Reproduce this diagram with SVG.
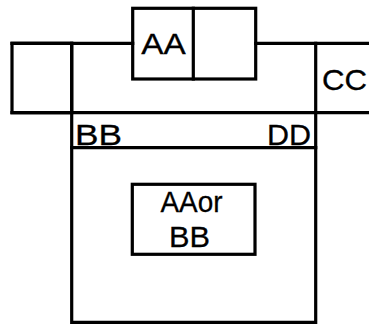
<svg xmlns="http://www.w3.org/2000/svg" width="369" height="324" viewBox="0 0 369 324">
<style>
.ln{fill:none;stroke:#000;stroke-width:3.2;stroke-linecap:square}
.t{font-family:"Liberation Sans",Arial,sans-serif;font-size:29px;fill:#000;stroke:#000;stroke-width:0.3}
</style>
<rect width="369" height="324" fill="#fff"/>
<g id="connectors">
<path class="ln" d="M12,43.3H132.7M255.7,43.3H369"/>
<path class="ln" d="M12,112.7H369"/>
</g>
<g id="left-box">
<rect class="ln" x="12" y="43.3" width="59.7" height="69.4"/>
</g>
<g id="main-box">
<path class="ln" d="M71.7,43.3V322.3H315.7V43.3"/>
<path class="ln" d="M71.7,147.7H315.7"/>
<text class="t" x="75" y="144.5" textLength="47" lengthAdjust="spacingAndGlyphs">BB</text>
<text class="t" x="267" y="144.5" textLength="44" lengthAdjust="spacingAndGlyphs">DD</text>
</g>
<g id="cc">
<text class="t" x="322" y="89.5" textLength="45" lengthAdjust="spacingAndGlyphs">CC</text>
</g>
<g id="top-box">
<rect class="ln" x="132.7" y="8.3" width="123" height="70.7" fill="#fff"/>
<path class="ln" d="M193.3,8.3V79"/>
<text class="t" x="141.3" y="53.5" textLength="44.5" lengthAdjust="spacingAndGlyphs">AA</text>
</g>
<g id="inner-box">
<rect class="ln" x="132.3" y="184.3" width="122.7" height="70"/>
<text class="t" x="160.5" y="212" textLength="62" lengthAdjust="spacingAndGlyphs">AAor</text>
<text class="t" x="169" y="246.5" textLength="41" lengthAdjust="spacingAndGlyphs">BB</text>
</g>
</svg>
